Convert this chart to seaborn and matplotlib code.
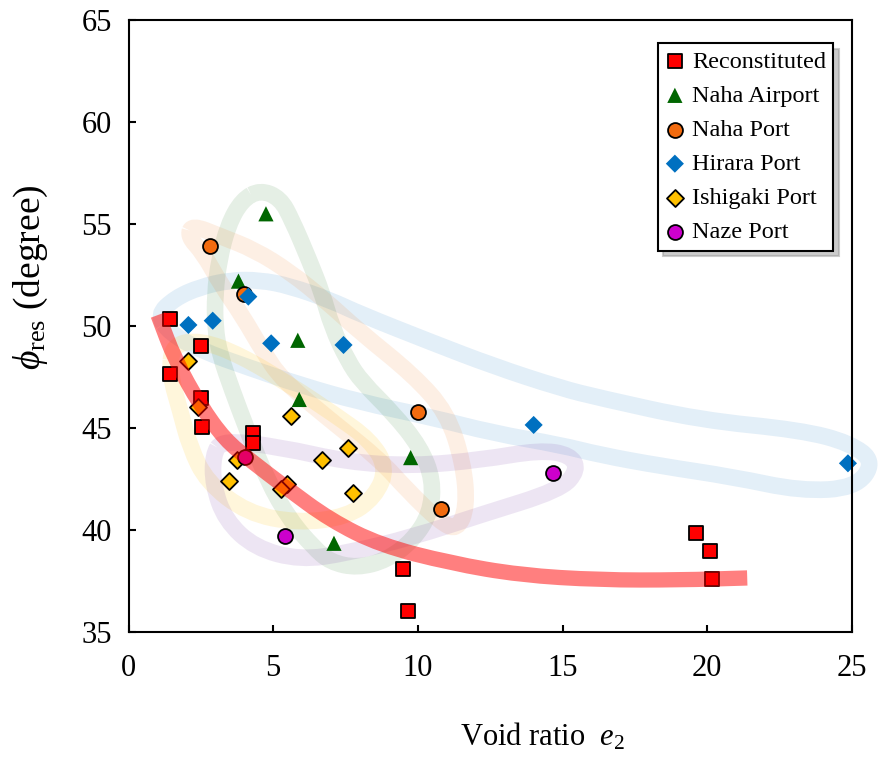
import numpy as np
import matplotlib
matplotlib.use('Agg')
import matplotlib.pyplot as plt
from matplotlib.path import Path
from matplotlib.patches import PathPatch
import seaborn as sns

# Datos por sitio (relación de vacíos e2, ángulo residual)
recon_e = [1.45, 1.45, 2.5, 2.5, 2.55, 4.3, 4.3, 9.5, 9.65, 19.6, 20.1, 20.15]
recon_phi = [50.35, 47.65, 49.0, 46.45, 45.05, 44.75, 44.25, 38.1, 36.05, 39.85, 38.95, 37.6]

airport_e = [4.75, 3.8, 5.85, 5.9, 9.75, 7.1]
airport_phi = [55.5, 52.2, 49.3, 46.4, 43.55, 39.35]

naha_e = [2.8, 4.0, 10.0, 10.8]
naha_phi = [53.9, 51.55, 45.8, 41.05]

hirara_e = [2.07, 2.91, 4.14, 4.93, 7.43, 14.0, 24.86]
hirara_phi = [50.05, 50.26, 51.44, 49.15, 49.07, 45.15, 43.27]

ishigaki_e = [2.05, 2.39, 5.61, 7.57, 6.7, 3.76, 3.48, 5.47, 5.27, 7.75]
ishigaki_phi = [48.3, 46.04, 45.59, 44.0, 43.43, 43.43, 42.42, 42.25, 42.0, 41.8]

naze_e = [4.03, 5.41, 14.67]
naze_phi = [43.59, 39.72, 42.81]

# Contornos dibujados a mano (puntos de control)
trend_e = [1.02, 1.61, 2.47, 3.34, 4.2, 5.41, 6.97, 8.7, 11.12, 13.54, 16.3, 19.07, 21.38]
trend_phi = [50.54, 48.33, 46.13, 44.41, 43.43, 42.11, 40.49, 39.26, 38.38, 37.79, 37.55, 37.55, 37.65]

loop_hirara_e = [0.99, 1.61, 2.47, 3.51, 4.55, 5.58, 6.97, 8.0, 10.43, 12.6, 14.92, 16.3, 19.76,
                 23.22, 24.95, 25.78, 25.12, 23.22, 20.9, 18.38, 16.3, 14.92, 12.6, 10.43, 8.0,
                 5.93, 4.2, 2.47, 1.43]
loop_hirara_phi = [50.54, 51.37, 51.91, 52.25, 52.25, 51.96, 51.27, 50.59, 49.22, 48.04, 46.96,
                   46.47, 45.39, 44.9, 44.26, 43.33, 42.06, 41.91, 42.6, 43.14, 43.68, 44.17,
                   44.75, 45.54, 46.27, 47.11, 47.94, 48.82, 49.66]

loop_airport_e = [4.55, 5.24, 5.65, 6.24, 6.69, 7.03, 7.56, 8.07, 9.14, 10.08, 10.53, 10.43, 9.84,
                  8.94, 7.9, 6.97, 6.38, 5.58, 4.79, 4.1, 3.58, 3.16, 2.99, 2.99, 3.13, 3.44, 3.92]
loop_airport_phi = [56.67, 56.27, 55.2, 53.24, 51.62, 49.95, 48.33, 47.25, 45.74, 44.07, 42.45,
                    40.83, 39.51, 38.53, 38.14, 38.43, 39.17, 40.49, 42.45, 44.9, 46.86, 48.58,
                    49.95, 51.62, 53.24, 54.95, 56.18]

loop_naha_e = [2.2, 3.16, 4.37, 5.58, 6.79, 8.0, 9.84, 11.01, 11.57, 11.7, 11.36, 10.77, 9.63,
               8.7, 6.97, 5.31, 4.62, 3.96, 3.16, 2.58, 2.05]
loop_naha_phi = [54.95, 54.41, 53.73, 52.65, 51.27, 49.71, 47.6, 45.74, 43.28, 41.13, 40.0,
                 40.39, 41.96, 43.43, 45.39, 47.35, 48.82, 50.44, 52.11, 53.58, 54.4]

loop_ishigaki_e = [1.5, 2.47, 3.86, 5.58, 7.14, 8.35, 8.94, 8.52, 7.55, 5.83, 4.1, 2.71, 2.12,
                   1.78, 1.43]
loop_ishigaki_phi = [49.07, 49.31, 48.58, 47.11, 45.64, 44.41, 43.04, 41.62, 40.64, 40.34,
                     40.83, 42.35, 44.07, 45.88, 47.6]

loop_naze_e = [3.23, 5.24, 7.56, 9.84, 12.15, 14.23, 15.27, 15.54, 14.92, 12.15, 9.84, 7.56,
               5.93, 4.37, 3.34, 2.92, 2.92]
loop_naze_phi = [44.41, 44.07, 43.33, 43.14, 43.43, 43.92, 43.68, 42.94, 41.96, 40.74, 39.66,
                 38.87, 38.53, 39.12, 40.49, 42.21, 43.68]

# Estilo
sns.set_style('white')
plt.rcParams['font.family'] = ['Liberation Serif', 'DejaVu Serif']
plt.rcParams['mathtext.fontset'] = 'custom'
plt.rcParams['mathtext.rm'] = 'Liberation Serif'
plt.rcParams['mathtext.it'] = 'Liberation Serif:italic'
plt.rcParams['text.color'] = 'black'
plt.rcParams['axes.labelcolor'] = 'black'


def closed_path(xs, ys):
    pts = np.column_stack([xs, ys])
    mids = (pts + np.roll(pts, -1, axis=0)) / 2
    verts = [mids[-1]]
    codes = [Path.MOVETO]
    for i in range(len(pts)):
        verts += [pts[i], mids[i]]
        codes += [Path.CURVE3, Path.CURVE3]
    return Path(verts, codes)


def open_path(xs, ys):
    pts = np.column_stack([xs, ys])
    mids = (pts[:-1] + pts[1:]) / 2
    verts = [pts[0], mids[0]]
    codes = [Path.MOVETO, Path.LINETO]
    for i in range(1, len(pts) - 1):
        verts += [pts[i], mids[i]]
        codes += [Path.CURVE3, Path.CURVE3]
    verts.append(pts[-1])
    codes.append(Path.LINETO)
    return Path(verts, codes)


fig = plt.figure(figsize=(8.85, 7.6), dpi=100)
ax = fig.add_axes([0.1452, 0.1684, 0.8175, 0.8053])

# Contornos suaves de cada sitio
loops = [
    (loop_hirara_e, loop_hirara_phi, '#0070C0', 0.11),
    (loop_airport_e, loop_airport_phi, '#006400', 0.10),
    (loop_naha_e, loop_naha_phi, '#F07010', 0.11),
    (loop_ishigaki_e, loop_ishigaki_phi, '#FFC000', 0.14),
    (loop_naze_e, loop_naze_phi, '#7030A0', 0.12),
]
for xs, ys, c, a in loops:
    patch = PathPatch(closed_path(xs, ys), facecolor='none', edgecolor=c, alpha=a,
                      lw=12, joinstyle='round', zorder=1, clip_on=False)
    ax.add_patch(patch)

# Puntos
groups = [
    (recon_e, recon_phi, 'Reconstituted', 's', '#FF0000', 'black', 100),
    (airport_e, airport_phi, 'Naha Airport', '^', '#006600', 'none', 120),
    (naha_e, naha_phi, 'Naha Port', 'o', '#F26B0F', 'black', 115),
    (hirara_e, hirara_phi, 'Hirara Port', 'D', '#0070C0', 'none', 85),
    (ishigaki_e, ishigaki_phi, 'Ishigaki Port', 'D', '#FFC000', 'black', 75),
    (naze_e, naze_phi, 'Naze Port', 'o', '#CC00CC', 'black', 115),
]
for xs, ys, name, m, c, ec, s in groups:
    sns.scatterplot(x=xs, y=ys, marker=m, color=c, edgecolor=ec, linewidth=1.3, s=s,
                    label=name, ax=ax, zorder=2, clip_on=False)

# Tendencia de las muestras reconstituidas
trend = PathPatch(open_path(trend_e, trend_phi), facecolor='none', edgecolor='#FF0000',
                  alpha=0.5, lw=11, capstyle='butt', joinstyle='round', zorder=3)
ax.add_patch(trend)

ax.set_xlim(0, 25)
ax.set_ylim(35, 65)
ax.set_xticks(range(0, 26, 5))
ax.set_yticks(range(35, 66, 5))
ax.tick_params(direction='in', length=5, width=1.5, labelsize=22, pad=16,
               colors='black', top=False, right=False, bottom=True, left=True)
ax.tick_params(axis='y', pad=12)
for sp in ax.spines.values():
    sp.set_linewidth(1.5)
    sp.set_color('black')

ax.set_xlabel(r'Void ratio  $\mathit{e}_{2}$', fontsize=22)
ax.set_ylabel(r'$\phi_{\rm res}$ (degree)', fontsize=27)
ax.xaxis.set_label_coords(0.572, -0.145)
ax.yaxis.set_label_coords(-0.108, 0.58)

leg = ax.legend(loc='upper right', bbox_to_anchor=(0.974, 0.962), fontsize=17.5,
                frameon=True, fancybox=False, shadow={'ox': 4, 'oy': -4, 'color': '0.6'},
                handlelength=0.8, handletextpad=0.3, borderpad=0.3, labelspacing=0.5,
                borderaxespad=0)
leg.get_frame().set_edgecolor('black')
leg.get_frame().set_linewidth(1.5)
leg.get_frame().set_alpha(1)

plt.savefig('out.png', dpi=100)
